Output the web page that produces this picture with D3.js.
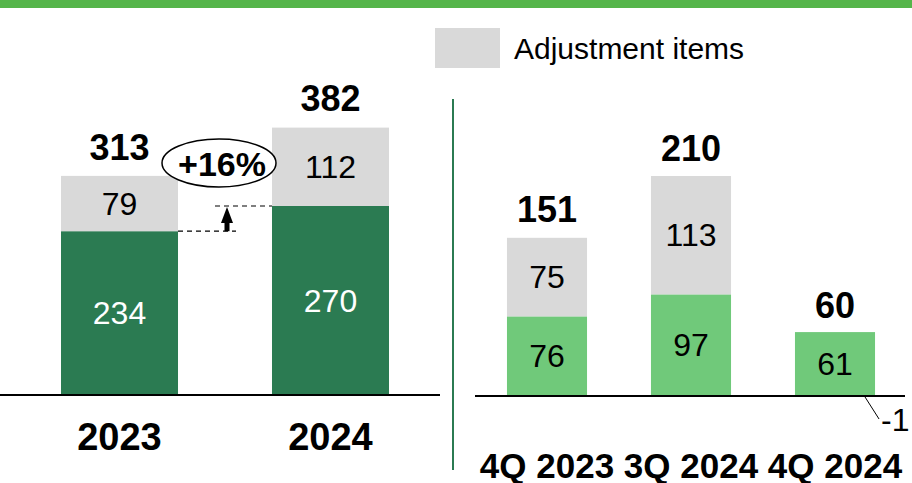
<!DOCTYPE html>
<html><head><meta charset="utf-8">
<script src="https://cdn.jsdelivr.net/npm/d3@7"></script>
<style>body{margin:0;background:#fff}svg{display:block;font-family:"Liberation Sans",Arial,sans-serif}</style>
</head><body><svg id="c" width="912" height="483"></svg>
<script>
const yearCats = ["2023", "2024"];
const yearBase = [234, 270];
const yearAdj = [79, 112];
const yearTotal = [313, 382];
const qCats = ["4Q 2023", "3Q 2024", "4Q 2024"];
const qBase = [76, 97, 61];
const qAdj = [75, 113, -1];
const qTotal = [151, 210, 60];
const legendLabel = "Adjustment items";
const growthLabel = "+16%";

const C = {dark:"#2b7b52", light:"#70c97a", gray:"#d9d9d9", top:"#55b54a"};
const svg = d3.select("#c");
const VAL = 32, TOT = 36;

svg.append("rect").attr("x",0).attr("y",0).attr("width",912).attr("height",8).attr("fill",C.top);

// Legend
svg.append("rect").attr("x",435).attr("y",28).attr("width",65).attr("height",40).attr("fill",C.gray);
svg.append("text").attr("x",514).attr("y",48).attr("dy","0.35em").attr("font-size",30).attr("fill","#000").text(legendLabel);

// separator
svg.append("line").attr("x1",453).attr("x2",453).attr("y1",99).attr("y2",470).attr("stroke","#2b7b52").attr("stroke-width",2);

// Left panel
const xL = d3.scaleBand().domain(yearCats).range([14,436]).paddingInner(0.4455).paddingOuter(0.2228);
const yL = d3.scaleLinear().domain([0,400]).range([395,115]);
const gL = svg.append("g");
yearCats.forEach((c,i)=>{
  const x = xL(c), w = xL.bandwidth();
  gL.append("rect").attr("x",x).attr("width",w).attr("y",yL(yearBase[i])).attr("height",yL(0)-yL(yearBase[i])).attr("fill",C.dark);
  gL.append("rect").attr("x",x).attr("width",w).attr("y",yL(yearBase[i]+yearAdj[i])).attr("height",yL(yearBase[i])-yL(yearBase[i]+yearAdj[i])).attr("fill",C.gray);
  gL.append("text").attr("x",x+w/2).attr("y",(yL(0)+yL(yearBase[i]))/2).attr("dy","0.35em").attr("text-anchor","middle").attr("font-size",VAL).attr("fill","#fff").text(yearBase[i]);
  gL.append("text").attr("x",x+w/2).attr("y",(yL(yearBase[i])+yL(yearBase[i]+yearAdj[i]))/2).attr("dy","0.35em").attr("text-anchor","middle").attr("font-size",VAL).attr("fill","#000").text(yearAdj[i]);
  gL.append("text").attr("x",x+w/2).attr("y",yL(yearTotal[i])-29).attr("dy","0.35em").attr("text-anchor","middle").attr("font-size",TOT).attr("font-weight","bold").text(yearTotal[i]);
  gL.append("text").attr("x",x+w/2).attr("y",437).attr("dy","0.35em").attr("text-anchor","middle").attr("font-size",38).attr("font-weight","bold").text(c);
});
gL.append("line").attr("x1",0).attr("x2",440).attr("y1",yL(0)).attr("y2",yL(0)).attr("stroke","#000").attr("stroke-width",2);

// growth annotation
const x0 = xL("2023")+xL.bandwidth(), x1 = xL("2024");
const yLow = yL(yearBase[0]), yHigh = yL(yearBase[1]);
gL.append("line").attr("x1",x0).attr("x2",236).attr("y1",yLow).attr("y2",yLow).attr("stroke","#000").attr("stroke-width",1.2).attr("stroke-dasharray","5,4");
gL.append("line").attr("x1",215).attr("x2",x1).attr("y1",yHigh).attr("y2",yHigh).attr("stroke","#000").attr("stroke-width",1.2).attr("stroke-dasharray","5,4");
const ax = 227;
gL.append("rect").attr("x",ax-2.5).attr("y",yHigh+15).attr("width",5).attr("height",yLow-yHigh-15).attr("fill","#000");
gL.append("path").attr("d",`M${ax},${yHigh+1} L${ax-6},${yHigh+17} L${ax+6},${yHigh+17} Z`).attr("fill","#000");
gL.append("ellipse").attr("cx",219).attr("cy",163).attr("rx",57).attr("ry",24).attr("fill","#fff").attr("stroke","#000").attr("stroke-width",1.5);
gL.append("text").attr("x",222).attr("y",164).attr("dy","0.35em").attr("text-anchor","middle").attr("font-size",34).attr("font-weight","bold").text(growthLabel);

// Right panel
const xR = d3.scaleBand().domain(qCats).range([475,907]).paddingInner(0.444).paddingOuter(0.222);
const yR = d3.scaleLinear().domain([0,210]).range([396,176]);
const gR = svg.append("g");
qCats.forEach((c,i)=>{
  const x = xR(c), w = xR.bandwidth();
  gR.append("rect").attr("x",x).attr("width",w).attr("y",yR(qBase[i])).attr("height",yR(0)-yR(qBase[i])).attr("fill",C.light);
  gR.append("text").attr("x",x+w/2).attr("y",(yR(0)+yR(qBase[i]))/2).attr("dy","0.35em").attr("text-anchor","middle").attr("font-size",VAL).attr("fill","#000").text(qBase[i]);
  if (qAdj[i] > 0) {
    gR.append("rect").attr("x",x).attr("width",w).attr("y",yR(qBase[i]+qAdj[i])).attr("height",yR(qBase[i])-yR(qBase[i]+qAdj[i])).attr("fill",C.gray);
    gR.append("text").attr("x",x+w/2).attr("y",(yR(qBase[i])+yR(qBase[i]+qAdj[i]))/2).attr("dy","0.35em").attr("text-anchor","middle").attr("font-size",VAL).attr("fill","#000").text(qAdj[i]);
  } else {
    gR.append("rect").attr("x",x).attr("width",w).attr("y",yR(0)).attr("height",yR(qAdj[i])-yR(0)).attr("fill",C.gray);
    const lx = x + w - 10;
    gR.append("line").attr("x1",lx).attr("x2",lx+14).attr("y1",yR(0)+1).attr("y2",yR(0)+23).attr("stroke","#000").attr("stroke-width",1);
    gR.append("text").attr("x",lx+16).attr("y",yR(0)+24).attr("dy","0.35em").attr("font-size",VAL).attr("fill","#000").text(qAdj[i]);
  }
  gR.append("text").attr("x",x+w/2).attr("y",yR(qTotal[i])-28).attr("dy","0.35em").attr("text-anchor","middle").attr("font-size",TOT).attr("font-weight","bold").text(qTotal[i]);
  gR.append("text").attr("x",x+w/2).attr("y",466).attr("dy","0.35em").attr("text-anchor","middle").attr("font-size",35).attr("font-weight","bold").text(c);
});
gR.append("line").attr("x1",475).attr("x2",905).attr("y1",yR(0)).attr("y2",yR(0)).attr("stroke","#000").attr("stroke-width",2);
</script></body></html>
